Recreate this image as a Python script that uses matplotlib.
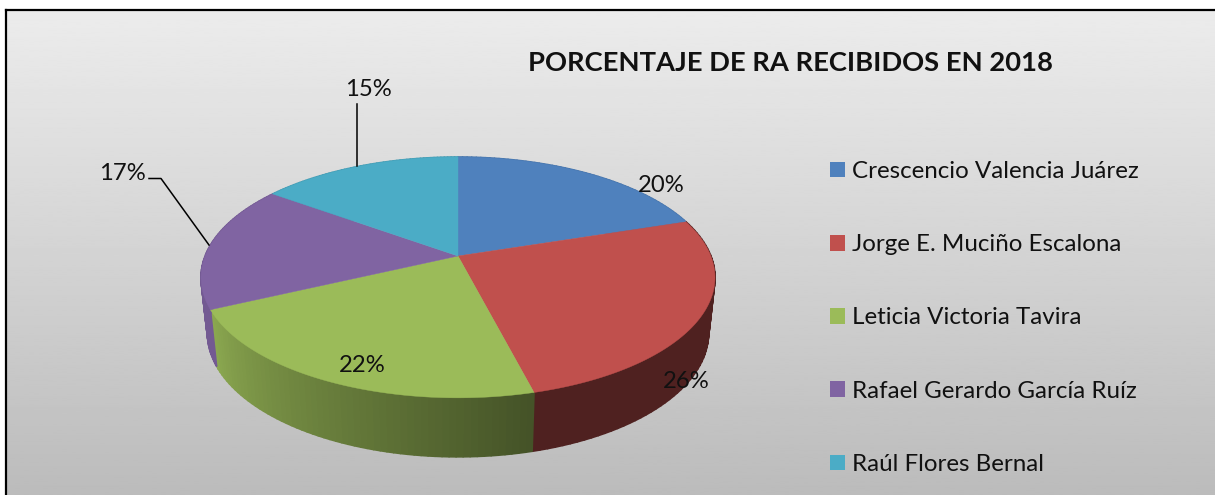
import numpy as np
import matplotlib
matplotlib.use('Agg')
import matplotlib.pyplot as plt
from matplotlib.collections import PolyCollection
from matplotlib.patches import Patch

plt.rcParams['font.family'] = ['Lato', 'DejaVu Sans']

titulo = 'PORCENTAJE DE RA RECIBIDOS EN 2018'
nombres = ['Crescencio Valencia Juárez', 'Jorge E. Muciño Escalona', 'Leticia Victoria Tavira',
           'Rafael Gerardo García Ruíz', 'Raúl Flores Bernal']
porcentajes = [20, 26, 22, 17, 15]
colores = ['#4f81bd', '#c0504d', '#9bbb59', '#8064a2', '#4bacc6']

# pie geometry, in picture pixels
CX, CY = 458, 256
RX, RY = 252.9, 116.6
K = 0.178    # perspective
DROP = 55    # thickness
BOT_X, BOT_Y = 0.975, 1.028


def project(theta):
    # theta clockwise from the top of the pie, degrees
    t = np.radians(theta)
    d = 1 + K * np.cos(t)
    return RX * np.sin(t) / d, -RY * np.cos(t) / d


# how dark the rim gets, per slice (angle -> factor)
def rim_shade(i, theta, a, b):
    if i == 2:
        return np.interp(theta, [a, b], [0.44, 0.9])
    if i == 1:
        return 0.41
    return 0.9


fig = plt.figure(figsize=(12.15, 4.95), dpi=100)
ax = fig.add_axes([0, 0, 1, 1])
ax.set_axis_off()

# grey panel
grad = np.linspace(0.925, 0.735, 256).reshape(-1, 1)
ax.imshow(grad, cmap='gray', vmin=0, vmax=1, extent=[6, 1215, 495, 10], aspect='auto', zorder=0)
ax.plot([5.5, 5.5], [495, 10], color='black', lw=1.6, zorder=1)
ax.plot([5.5, 1215], [10, 10], color='black', lw=1.6, zorder=1)
ax.set_xlim(0, 1215)
ax.set_ylim(495, 0)

edges = np.concatenate([[0], np.cumsum(porcentajes)]) * 3.6

# rim first, the top face covers the back of it
for i, col in enumerate(colores):
    a, b = edges[i], edges[i + 1]
    th = np.linspace(a, b, 60)
    x, y = project(th)
    base = np.array(matplotlib.colors.to_rgb(col))
    quads, cols = [], []
    for j in range(len(th) - 1):
        quads.append([(CX + x[j], CY + y[j]), (CX + x[j + 1], CY + y[j + 1]),
                      (CX + x[j + 1] * BOT_X, CY + DROP + y[j + 1] * BOT_Y),
                      (CX + x[j] * BOT_X, CY + DROP + y[j] * BOT_Y)])
        cols.append(base * rim_shade(i, (th[j] + th[j + 1]) / 2, a, b))
    ax.add_collection(PolyCollection(quads, facecolors=cols, edgecolors=cols, linewidths=1.2, zorder=2))

for i, col in enumerate(colores):
    th = np.linspace(edges[i], edges[i + 1], 120)
    x, y = project(th)
    ax.fill(np.r_[CX, CX + x], np.r_[CY, CY + y], color=col, lw=0.3, zorder=3)

# leader lines
ax.plot([357, 357], [104, 166], color='black', lw=1.1, zorder=4)
ax.plot([149, 161, 209], [178.5, 178.5, 245], color='black', lw=1.1, zorder=4)

# percent labels
pos_etiquetas = [(661, 186), (686, 381), (362, 366), (122, 173), (368, 90)]
for v, (px, py) in zip(porcentajes, pos_etiquetas):
    ax.text(px, py, f'{v}%', ha='center', va='center', fontsize=17.2, color='#111111', zorder=5)

ax.text(791, 63, titulo, ha='center', va='center', fontsize=19.7, fontweight='bold', color='#111111', zorder=5)

# legend
fs = 17.4
handles = [Patch(facecolor=c, edgecolor='none') for c in colores]
ax.legend(handles, nombres, loc='center left', bbox_to_anchor=(830 / 1215, 1 - 318 / 495), frameon=False,
          fontsize=fs, labelcolor='#111111', handlelength=0.62, handleheight=0.62, handletextpad=0.29,
          labelspacing=2.165, borderpad=0, borderaxespad=0)

plt.savefig('out.png', dpi=100)
